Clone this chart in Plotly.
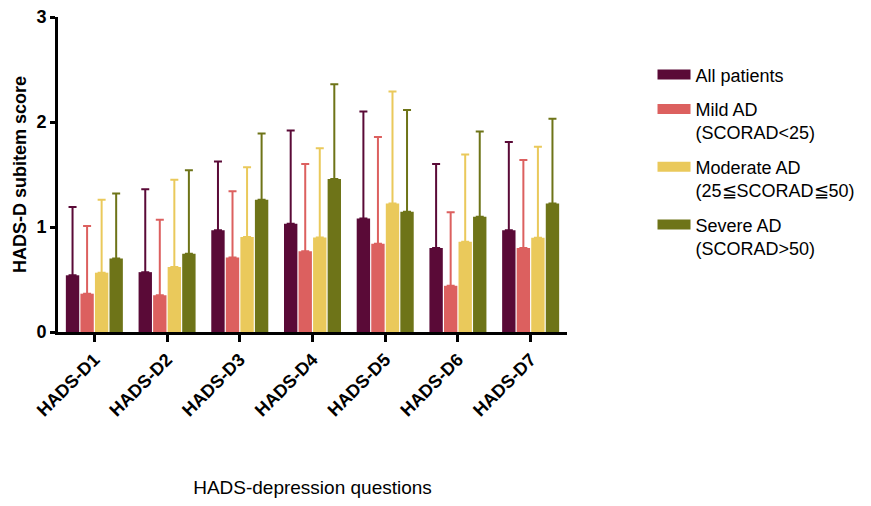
import plotly.graph_objects as go

categories = ["HADS-D1", "HADS-D2", "HADS-D3", "HADS-D4", "HADS-D5", "HADS-D6", "HADS-D7"]
series_names = ["All patients", "Mild AD<br>(SCORAD<25)", "Moderate AD<br>(25≦SCORAD≦50)", "Severe AD<br>(SCORAD>50)"]
all_mean = [0.54, 0.57, 0.97, 1.03, 1.08, 0.80, 0.97]
all_upper = [1.19, 1.36, 1.625, 1.92, 2.10, 1.60, 1.81]
mild_mean = [0.365, 0.35, 0.71, 0.77, 0.84, 0.44, 0.80]
mild_upper = [1.01, 1.07, 1.34, 1.60, 1.857, 1.14, 1.638]
mod_mean = [0.565, 0.62, 0.905, 0.90, 1.225, 0.86, 0.898]
mod_upper = [1.26, 1.45, 1.57, 1.75, 2.29, 1.69, 1.765]
sev_mean = [0.70, 0.745, 1.26, 1.457, 1.146, 1.098, 1.225]
sev_upper = [1.32, 1.54, 1.89, 2.36, 2.115, 1.91, 2.03]
colors = ["#5a0a37", "#dc605f", "#eac95b", "#6e7418"]

means = [all_mean, mild_mean, mod_mean, sev_mean]
uppers = [all_upper, mild_upper, mod_upper, sev_upper]

font_family = "Liberation Sans, Arial, Helvetica, sans-serif"

fig = go.Figure()
for i, (name, m, u, c) in enumerate(zip(series_names, means, uppers, colors)):
    fig.add_trace(go.Bar(
        x=categories, y=m, name=name, showlegend=False, legendgroup=f"g{i}",
        marker=dict(color=c, line=dict(width=0)),
        error_y=dict(type="data", symmetric=False,
                     array=[ui - mi for ui, mi in zip(u, m)],
                     arrayminus=[0] * len(m),
                     color=c, thickness=2, width=4),
    ))
    # legend swatch (wide rectangle like the reference)
    fig.add_trace(go.Scatter(
        x=[None], y=[None], mode="lines", name=name, legendgroup=f"g{i}",
        line=dict(color=c, width=14), showlegend=True,
    ))

fig.update_layout(
    width=855, height=490,
    barmode="group", bargap=0.2, bargroupgap=0.08,
    plot_bgcolor="white", paper_bgcolor="white",
    margin=dict(l=50, r=296, t=9, b=166, autoexpand=False),
    font=dict(family=font_family, color="black"),
    legend=dict(x=1.168, y=0.875, xanchor="left", yanchor="top",
                font=dict(size=18, family=font_family, color="black"),
                valign="top", tracegroupgap=8, itemwidth=33,
                bgcolor="rgba(0,0,0,0)"),
    xaxis=dict(
        range=[-0.5, 6.5], showline=True, linecolor="black", linewidth=3,
        ticks="outside", ticklen=7, tickwidth=3, tickcolor="black",
        tickangle=-45, tickfont=dict(size=18, family=font_family, weight="bold"),
        title=dict(text="HADS-depression questions", font=dict(size=19), standoff=73),
        showgrid=False, zeroline=False, automargin=False,
    ),
    yaxis=dict(
        range=[0, 3], tickvals=[0, 1, 2, 3], showline=True, linecolor="black", linewidth=3,
        ticks="outside", ticklen=5, tickwidth=3, tickcolor="black",
        tickfont=dict(size=18, family=font_family, weight="bold"),
        ticklabeloverflow="allow",
        title=dict(text="<b>HADS-D subitem score</b>", font=dict(size=18), standoff=6),
        showgrid=False, zeroline=False, automargin=False,
    ),
)

fig.write_html("out.html")
